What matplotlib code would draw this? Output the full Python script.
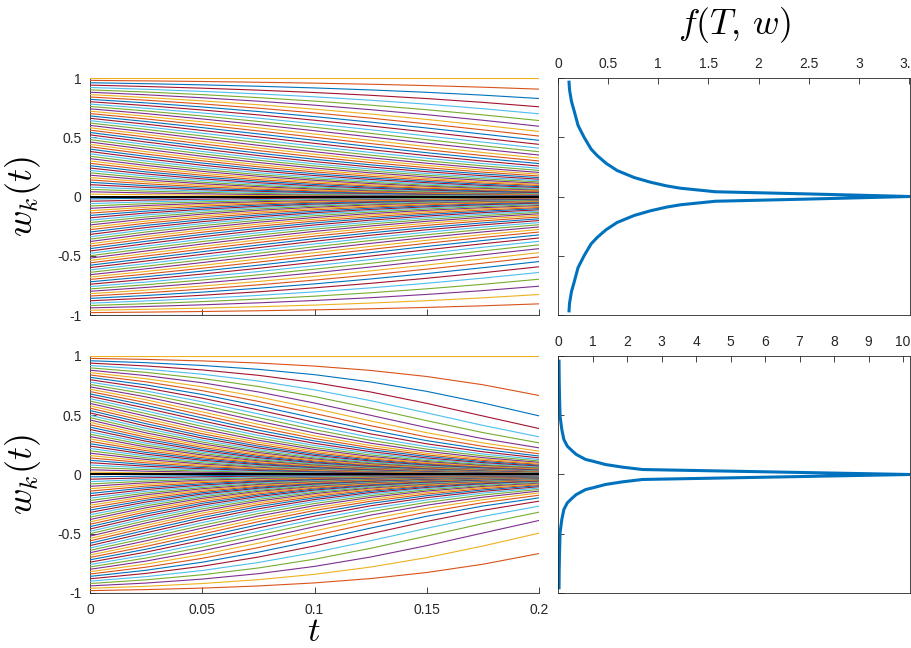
import numpy as np
import matplotlib
matplotlib.use("Agg")
import matplotlib.pyplot as plt

plt.rcParams['font.family'] = ['Liberation Sans', 'DejaVu Sans']
plt.rcParams['mathtext.fontset'] = 'cm'

# sample times of the trajectories
t = [0, 0.025, 0.05, 0.075, 0.1, 0.125, 0.15, 0.175, 0.2]

# starting points of the upper half (lower half is the mirror image)
w_start = [0.02, 0.04, 0.06, 0.08, 0.10, 0.12, 0.14, 0.16, 0.18, 0.20,
           0.22, 0.24, 0.26, 0.28, 0.30, 0.32, 0.34, 0.36, 0.38, 0.40,
           0.42, 0.44, 0.46, 0.48, 0.50, 0.52, 0.54, 0.56, 0.58, 0.60,
           0.62, 0.64, 0.66, 0.68, 0.70, 0.72, 0.74, 0.76, 0.78, 0.80,
           0.82, 0.84, 0.86, 0.88, 0.90, 0.92, 0.94, 0.96, 0.98]

# upper panel
top_t025 = [.0151, .0302, .0453, .0605, .0761, .0912, .1073, .1233, .1395, .1557,
            .1727, .1897, .2074, .2252, .2436, .2619, .2804, .2993, .3187, .3381,
            .3580, .3778, .3980, .4185, .4390, .4597, .4807, .5020, .5234, .5447,
            .5664, .5883, .6102, .6323, .6545, .6769, .6993, .7219, .7445, .7672,
            .7899, .8126, .8354, .8584, .8815, .9049, .9282, .9519, .9757]
top_t05 = [.0114, .0228, .0342, .0458, .0578, .0692, .0820, .0947, .1076, .1205,
           .1347, .1489, .1642, .1795, .1959, .2123, .2287, .2460, .2641, .2823,
           .3012, .3201, .3397, .3599, .3801, .4009, .4222, .4439, .4660, .4881,
           .5109, .5340, .5574, .5813, .6053, .6298, .6545, .6796, .7048, .7301,
           .7556, .7812, .8070, .8333, .8598, .8870, .9141, .9421, .9705]
top_t075 = [.0086, .0172, .0258, .0346, .0439, .0524, .0625, .0726, .0828, .0930,
            .1046, .1163, .1293, .1423, .1566, .1708, .1851, .2005, .2170, .2334,
            .2509, .2684, .2868, .3060, .3253, .3453, .3661, .3876, .4097, .4318,
            .4550, .4788, .5030, .5280, .5534, .5795, .6062, .6333, .6609, .6888,
            .7171, .7455, .7744, .8042, .8344, .8659, .8974, .9303, .9642]
top_t10 = [.0065, .0130, .0195, .0261, .0333, .0397, .0476, .0556, .0636, .0716,
           .0811, .0906, .1015, .1124, .1246, .1368, .1490, .1624, .1771, .1917,
           .2074, .2232, .2400, .2578, .2756, .2944, .3142, .3348, .3562, .3776,
           .4005, .4242, .4484, .4740, .5000, .5271, .5551, .5839, .6135, .6436,
           .6743, .7054, .7374, .7707, .8049, .8412, .8775, .9162, .9565]
top_t125 = [.0049, .0098, .0147, .0197, .0252, .0300, .0363, .0425, .0488, .0551,
            .0628, .0705, .0795, .0886, .0989, .1092, .1195, .1311, .1438, .1566,
            .1705, .1845, .1995, .2156, .2318, .2490, .2673, .2865, .3067, .3269,
            .3489, .3717, .3954, .4207, .4466, .4739, .5026, .5324, .5632, .5950,
            .6277, .6612, .6959, .7327, .7709, .8124, .8540, .8993, .9473]
top_t15 = [.0037, .0074, .0111, .0149, .0191, .0227, .0276, .0325, .0374, .0424,
           .0486, .0548, .0622, .0697, .0783, .0870, .0956, .1055, .1165, .1275,
           .1396, .1518, .1651, .1794, .1938, .2093, .2258, .2434, .2620, .2806,
           .3012, .3227, .3452, .3695, .3947, .4215, .4500, .4799, .5113, .5440,
           .5780, .6132, .6502, .6902, .7322, .7791, .8264, .8792, .9360]
top_t175 = [.0028, .0056, .0084, .0113, .0145, .0172, .0210, .0249, .0287, .0325,
            .0375, .0425, .0486, .0547, .0620, .0692, .0764, .0847, .0942, .1036,
            .1141, .1246, .1361, .1488, .1614, .1751, .1899, .2056, .2225, .2393,
            .2582, .2780, .2989, .3217, .3455, .3712, .3987, .4280, .4591, .4919,
            .5264, .5624, .6009, .6434, .6888, .7410, .7942, .8553, .9224]
top_t20 = [.0021, .0042, .0063, .0085, .011, .013, .016, .019, .022, .025,
           .029, .033, .038, .043, .049, .055, .061, .068, .076, .084,
           .093, .102, .112, .123, .134, .146, .159, .173, .188, .203,
           .220, .238, .257, .278, .300, .324, .350, .378, .408, .440,
           .474, .510, .549, .593, .641, .698, .757, .827, .906]

# lower panel
bot_t025 = [.0138, .0277, .0416, .0556, .0697, .0837, .0979, .1123, .1267, .1413,
            .1560, .1708, .1858, .2011, .2164, .2320, .2479, .2639, .2805, .2975,
            .3149, .3328, .3511, .3697, .3889, .4085, .4285, .4490, .4700, .4916,
            .5137, .5365, .5594, .5829, .6064, .6303, .6547, .6797, .7048, .7303,
            .7560, .7820, .8081, .8346, .8618, .8888, .9160, .9434, .9712]
bot_t05 = [.0095, .0192, .0289, .0386, .0484, .0582, .0681, .0783, .0886, .0990,
           .1095, .1200, .1310, .1421, .1533, .1647, .1765, .1886, .2012, .2145,
           .2285, .2431, .2581, .2738, .2903, .3074, .3252, .3438, .3635, .3842,
           .4059, .4291, .4525, .4772, .5022, .5283, .5554, .5842, .6135, .6440,
           .6752, .7074, .7402, .7742, .8102, .8461, .8826, .9201, .9587]
bot_t075 = [.0065, .0133, .0200, .0268, .0336, .0405, .0473, .0545, .0617, .0690,
            .0764, .0839, .0916, .0995, .1075, .1156, .1241, .1328, .1420, .1519,
            .1625, .1736, .1852, .1975, .2106, .2245, .2390, .2544, .2710, .2890,
            .3081, .3292, .3507, .3740, .3977, .4233, .4505, .4803, .5114, .5447,
            .5796, .6167, .6554, .6967, .7426, .7888, .8369, .8875, .9406]
bot_t10 = [.0045, .0092, .0139, .0186, .0233, .0281, .0329, .0379, .0429, .0480,
           .0532, .0584, .0639, .0694, .0750, .0807, .0867, .0928, .0994, .1066,
           .1143, .1225, .1311, .1403, .1503, .1609, .1720, .1840, .1972, .2116,
           .2273, .2449, .2629, .2830, .3035, .3261, .3506, .3785, .4082, .4408,
           .4762, .5149, .5567, .6031, .6578, .7145, .7755, .8424, .9148]
bot_t125 = [.0031, .0063, .0096, .0129, .0162, .0195, .0228, .0263, .0298, .0334,
            .0370, .0406, .0444, .0483, .0522, .0561, .0603, .0646, .0692, .0744,
            .0799, .0859, .0922, .0989, .1063, .1141, .1224, .1314, .1415, .1526,
            .1647, .1787, .1929, .2091, .2256, .2440, .2644, .2882, .3139, .3429,
            .3751, .4116, .4522, .4994, .5589, .6232, .6963, .7812, .8782]
bot_t15 = [.0021, .0044, .0067, .0089, .0112, .0135, .0158, .0183, .0207, .0232,
           .0257, .0282, .0309, .0336, .0363, .0390, .0419, .0449, .0481, .0518,
           .0557, .0600, .0645, .0694, .0748, .0805, .0866, .0932, .1007, .1090,
           .1182, .1289, .1397, .1522, .1649, .1792, .1952, .2142, .2350, .2588,
           .2858, .3170, .3526, .3957, .4540, .5200, .6002, .7014, .8270]
bot_t175 = [.0015, .0030, .0046, .0062, .0078, .0094, .0110, .0127, .0144, .0161,
            .0179, .0196, .0215, .0233, .0252, .0271, .0291, .0311, .0334, .0360,
            .0388, .0419, .0451, .0486, .0525, .0566, .0611, .0659, .0714, .0775,
            .0843, .0924, .1005, .1099, .1194, .1302, .1423, .1569, .1729, .1915,
            .2127, .2376, .2664, .3023, .3538, .4146, .4938, .6038, .7573]
bot_t20 = [.0010, .0021, .0032, .0043, .0054, .0065, .0076, .0088, .0100, .0112,
           .0124, .0136, .0149, .0162, .0175, .0188, .0202, .0216, .0232, .0250,
           .0270, .0292, .0315, .0340, .0368, .0398, .0430, .0465, .0505, .0550,
           .0600, .0660, .0720, .0790, .0860, .0940, .1030, .1140, .1260, .1400,
           .1560, .1750, .1970, .2250, .2670, .3180, .3880, .4950, .6670]

# f(T, w), upper branch (lower branch is the mirror image)
w_f_top = [0.965, 0.90, 0.80, 0.726, 0.60, 0.50, 0.40, 0.346, 0.28, 0.219,
           0.16, 0.121, 0.09, 0.070, 0.040, 0.022, 0.0]
f_top = [0.11, 0.115, 0.135, 0.16, 0.20, 0.26, 0.33, 0.39, 0.48, 0.59,
         0.76, 0.92, 1.08, 1.22, 1.57, 2.48, 3.51]
w_f_bot = [0.956, 0.80, 0.65, 0.49, 0.38, 0.295, 0.239, 0.197, 0.169, 0.127,
           0.113, 0.084, 0.062, 0.042, 0.0]
f_bot = [0.03, 0.035, 0.045, 0.06, 0.11, 0.17, 0.27, 0.42, 0.53, 0.80,
         1.0, 1.38, 1.87, 2.45, 10.2]

colors = ['#0072BD', '#D95319', '#EDB120', '#7E2F8E', '#77AC30', '#4DBEEE', '#A2142F']
dark = '#262626'

W = 912
H = 648


def traj_table(cols):
    up = np.array([w_start] + cols).T
    rows = [np.full(len(t), -1.0)]
    rows += list(-up[::-1])
    rows.append(np.zeros(len(t)))
    rows += list(up)
    rows.append(np.full(len(t), 1.0))
    return rows


def left_panel(rect, rows, show_x):
    ax = fig.add_axes(rect)
    for i, r in enumerate(rows):
        ax.plot(t, r, color=colors[i % 7], lw=0.8, zorder=3)
    ax.plot([0, 0.2], [0, 0], color='k', lw=1.4, zorder=4)
    ax.set_xlim(0, 0.2)
    ax.set_ylim(-1, 1)
    ax.spines['top'].set_visible(False)
    ax.spines['right'].set_visible(False)
    ax.set_xticks([0, 0.05, 0.1, 0.15, 0.2])
    ax.set_yticks([-1, -0.5, 0, 0.5, 1])
    ax.set_yticklabels(['-1', '-0.5', '0', '0.5', '1'])
    if show_x:
        ax.set_xticklabels(['0', '0.05', '0.1', '0.15', '0.2'])
    else:
        ax.set_xticklabels([])
    ax.tick_params(direction='in', length=4, width=0.6, labelsize=10,
                   colors=dark, labelcolor=dark)
    ax.tick_params(axis='x', pad=7)
    ax.tick_params(axis='y', pad=6)
    ax.set_ylabel(r'$w_k(t)$', fontsize=26)
    ax.yaxis.set_label_coords(-0.105, 0.5)
    for s in ax.spines.values():
        s.set_linewidth(0.6)
        s.set_color(dark)
    return ax


def right_panel(rect, f, w, xmax, xt, xtl):
    ax = fig.add_axes(rect)
    ff = f + f[::-1][1:]
    ww = w + [-v for v in w[::-1][1:]]
    ax.plot(ff, ww, color='#0072BD', lw=2.2)
    ax.set_xlim(0, xmax)
    ax.set_ylim(-1, 1)
    ax.xaxis.tick_top()
    ax.set_xticks(xt)
    ax.set_xticklabels(xtl)
    ax.set_yticks([-1, -0.5, 0, 0.5, 1])
    ax.set_yticklabels([])
    ax.tick_params(direction='in', length=4, width=0.6, labelsize=10, pad=5,
                   colors=dark, labelcolor=dark)
    for s in ax.spines.values():
        s.set_linewidth(0.6)
        s.set_color(dark)
    return ax


fig = plt.figure(figsize=(W / 100, H / 100), dpi=100)

lx, lw_ = 90 / W, 449 / W
rx, rw = 558 / W, 352 / W
ph = 237 / H
top_y = 1 - 315 / H
bot_y = 1 - 593 / H

left_panel([lx, top_y, lw_, ph],
           traj_table([top_t025, top_t05, top_t075, top_t10,
                       top_t125, top_t15, top_t175, top_t20]), False)
left_panel([lx, bot_y, lw_, ph],
           traj_table([bot_t025, bot_t05, bot_t075, bot_t10,
                       bot_t125, bot_t15, bot_t175, bot_t20]), True)
fig.text(314 / W, 1 - 641 / H, r'$t$', fontsize=25, ha='center', va='baseline')

right_panel([rx, top_y, rw, ph], f_top, w_f_top, 3.51,
            [0, 0.5, 1, 1.5, 2, 2.5, 3, 3.5],
            ['0', '0.5', '1', '1.5', '2', '2.5', '3', '3.5'])
right_panel([rx, bot_y, rw, ph], f_bot, w_f_bot, 10.2,
            list(range(11)), [str(i) for i in range(11)])

fig.text(734 / W, 1 - 25 / H, r'$f(T,\,w)$', fontsize=26, ha='center', va='center')

fig.savefig('out.png', dpi=100)
